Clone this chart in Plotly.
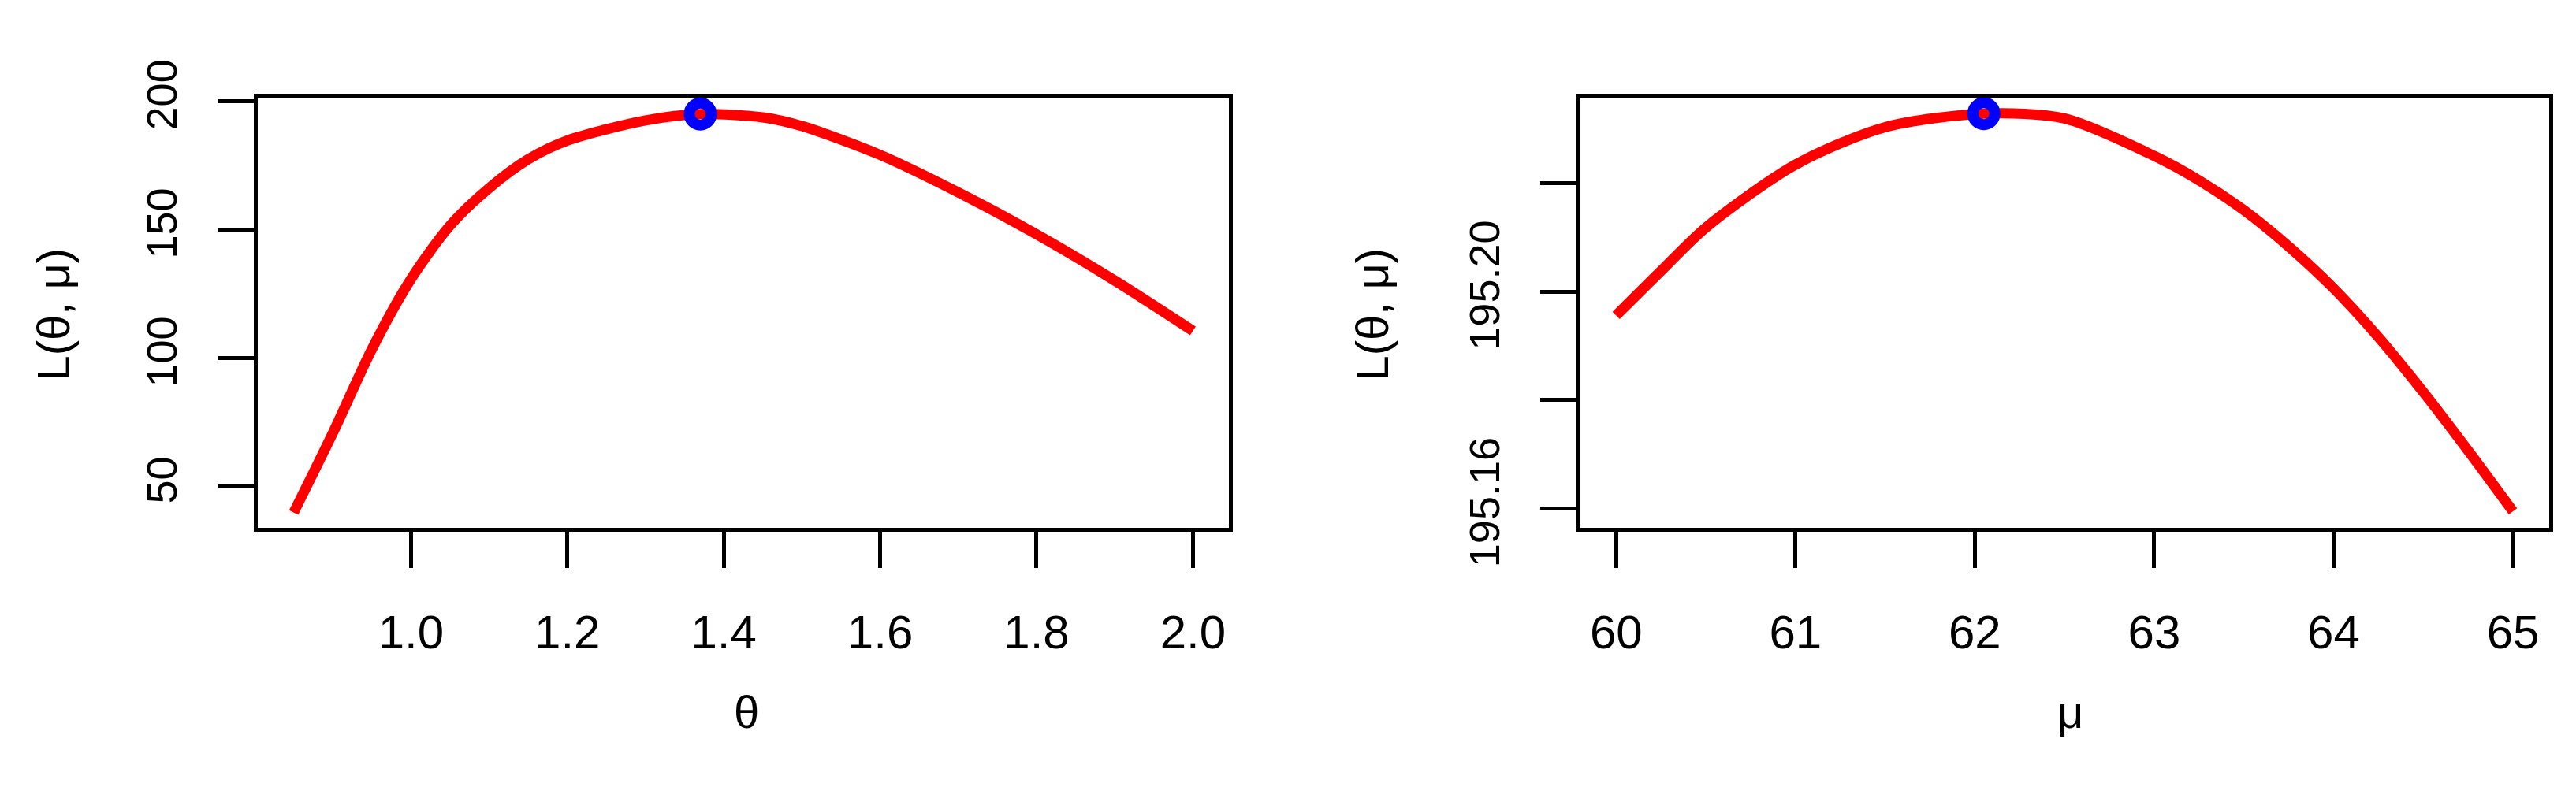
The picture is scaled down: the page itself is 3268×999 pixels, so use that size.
import plotly.graph_objects as go

W, H = 3268, 999

# Left panel: L vs theta
theta = [0.85, 0.9, 0.95, 1.0, 1.05, 1.1, 1.15, 1.2, 1.3, 1.37, 1.45, 1.5, 1.6, 1.7, 1.8, 1.9, 2.0]
L_theta = [39.9, 70.8, 103.5, 130.8, 151.6, 166.2, 177.4, 184.7, 192.5, 195.0, 193.7, 190.3, 179.1, 164.5, 148.2, 130.2, 110.6]
theta_hat, L_theta_hat = 1.37, 195.0

# Right panel: L vs mu
mu = [60, 60.25, 60.5, 61, 61.5, 62.05, 62.5, 63, 63.25, 63.5, 63.75, 64, 64.25, 64.5, 64.75, 65]
L_mu = [195.1956, 195.2038, 195.2118, 195.2234, 195.2303, 195.2328, 195.2319, 195.2250, 195.2205,
        195.2150, 195.2083, 195.2006, 195.1916, 195.1815, 195.1707, 195.1595]
mu_hat, L_mu_hat = 62.05, 195.2328

x1_ticks = [1.0, 1.2, 1.4, 1.6, 1.8, 2.0]
x1_text = ["1.0", "1.2", "1.4", "1.6", "1.8", "2.0"]
y1_ticks = [50, 100, 150, 200]
x2_ticks = [60, 61, 62, 63, 64, 65]
y2_ticks = [195.16, 195.18, 195.20, 195.22]
y2_text = ["195.16", "", "195.20", ""]

FONT = "Liberation Sans"
mk = dict(symbol="circle-open", size=28, color="blue", line=dict(width=14, color="blue"))
ln = dict(color="red", width=13, shape="spline", smoothing=0.8)
fig = go.Figure()
fig.add_trace(go.Scatter(x=theta, y=L_theta, mode="lines", line=ln, xaxis="x", yaxis="y"))
fig.add_trace(go.Scatter(x=[theta_hat], y=[L_theta_hat], mode="markers", marker=mk, xaxis="x", yaxis="y"))
fig.add_trace(go.Scatter(x=mu, y=L_mu, mode="lines", line=ln, xaxis="x2", yaxis="y2"))
fig.add_trace(go.Scatter(x=[mu_hat], y=[L_mu_hat], mode="markers", marker=mk, xaxis="x2", yaxis="y2"))

ax = dict(showgrid=False, zeroline=False, showline=True, linecolor="black", linewidth=5, mirror=True,
          ticks="outside", ticklen=46, tickwidth=5, tickcolor="black", ticklabelstandoff=30)
xf = dict(family=FONT, size=60, color="black")
yf = dict(family=FONT, size=54, color="black")
ydom = [0.318, 0.925]
fig.update_layout(
    width=W, height=H, margin=dict(l=0, r=0, t=0, b=0), showlegend=False,
    plot_bgcolor="white", paper_bgcolor="white",
    xaxis=dict(ax, tickfont=xf, domain=[0.0976, 0.4746], range=[0.804, 2.046], tickmode="array", tickvals=x1_ticks, ticktext=x1_text),
    yaxis=dict(ax, tickfont=yf, domain=ydom, range=[33.8, 201.5], tickmode="array", tickvals=y1_ticks, tickangle=-90),
    xaxis2=dict(ax, tickfont=xf, domain=[0.611, 0.987], range=[59.8, 65.2], tickmode="array", tickvals=x2_ticks, anchor="y2"),
    yaxis2=dict(ax, tickfont=yf, domain=ydom, range=[195.1564, 195.2358], tickmode="array", tickvals=y2_ticks, ticktext=y2_text, tickangle=-90, anchor="x2"),
)
tf = dict(family=FONT, size=58, color="black")
for (xp, yp, txt, ang) in [(60, 381, "L(θ, μ)", -90), (1733, 381, "L(θ, μ)", -90), (939, 940, "θ", 0), (2618, 940, "μ", 0)]:
    fig.add_annotation(x=xp / W, y=1 - yp / H, xref="paper", yref="paper", text=txt, textangle=ang,
                       showarrow=False, font=tf, xanchor="center", yanchor="middle")
fig.write_html("out.html")
